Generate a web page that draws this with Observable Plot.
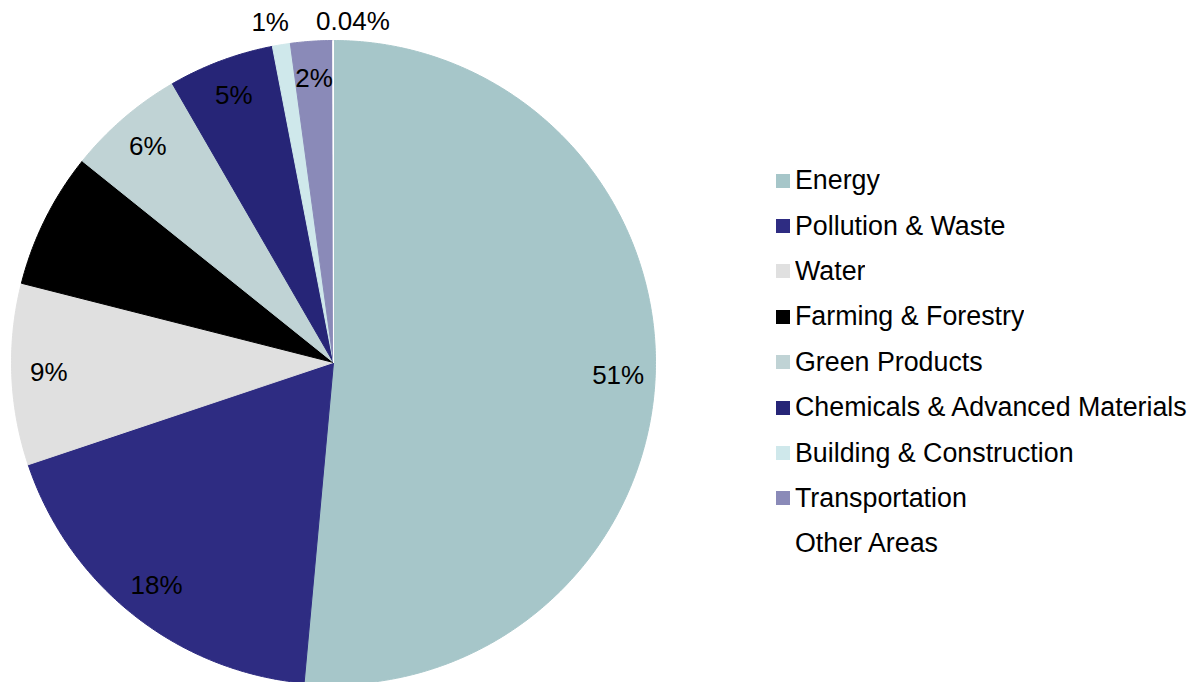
<!DOCTYPE html>
<html>
<head>
<meta charset="utf-8">
<script src="https://cdn.jsdelivr.net/npm/d3@7"></script>
<script src="https://cdn.jsdelivr.net/npm/@observablehq/plot@0.6"></script>
<style>
  body { margin: 0; background: #fff; font-family: "Liberation Sans", Arial, sans-serif; }
  #wrap { position: relative; width: 1192px; height: 682px; overflow: hidden; }
  #pie { position: absolute; left: 0; top: 0; }
  #legend { position: absolute; left: 776px; top: 158px; width: 416px; }
  .lg-swatches { font-family: "Liberation Sans", Arial, sans-serif; font-size: 26.8px; color: #000; margin: 0; width: 100%; }
  .lg-swatch { height: 45.4px; padding: 0; }
  .lg-swatch > svg { margin-right: 5px; }
</style>
</head>
<body>
<div id="wrap"><div id="pie"></div><div id="legend"></div></div>
<script>
// ---- data ----
const categories = ["Energy", "Pollution & Waste", "Water", "Farming & Forestry", "Green Products",
  "Chemicals & Advanced Materials", "Building & Construction", "Transportation", "Other Areas"];
const shares = [51.45, 18.4, 9.1, 6.8, 5.9, 5.3, 0.9, 2.1, 0.04];
const labels = ["51%", "18%", "9%", "", "6%", "5%", "1%", "2%", "0.04%"];
const colors = ["#a6c6c9", "#2e2c82", "#e0e0e0", "#000000", "#c0d3d5", "#262577", "#cfe8eb", "#8a8ab8", "#ffffff"];

// ---- layout ----
const W = 700, H = 682, CX = 333, CY = 362, R = 322;

const rows = categories.map((c, i) => ({category: c, share: shares[i], label: labels[i]}));
const arcs = d3.pie().sort(null).value(d => d.share)(rows);

// slice outlines in unit-circle coordinates (angles clockwise from 12 o'clock)
const slices = arcs.flatMap(a => {
  const c = a.data.category;
  const n = Math.max(2, Math.ceil((a.endAngle - a.startAngle) / (Math.PI / 360)));
  const pts = [{category: c, x: 0, y: 0}];
  for (let i = 0; i <= n; i++) {
    const t = a.startAngle + (a.endAngle - a.startAngle) * i / n;
    pts.push({category: c, x: Math.sin(t), y: Math.cos(t)});
  }
  pts.push({category: c, x: 0, y: 0});
  return pts;
});

const labelPts = arcs.filter(a => a.data.label).map(a => {
  const mid = (a.startAngle + a.endAngle) / 2;
  const outside = a.data.share < 1.5;
  const r = outside ? 1.06 : 0.885;
  return {x: r * Math.sin(mid), y: r * Math.cos(mid), text: a.data.label,
          kind: a.data.share < 0.5 ? "tiny" : outside ? "outside" : "inside"};
});

const chart = Plot.plot({
  width: W,
  height: H,
  margin: 0,
  style: {fontFamily: "Liberation Sans, Arial, sans-serif", background: "#fff"},
  x: {domain: [-CX / R, (W - CX) / R], axis: null},
  y: {domain: [-(H - CY) / R, CY / R], axis: null},
  color: {domain: categories, range: colors},
  marks: [
    Plot.line(slices, {x: "x", y: "y", z: "category", fill: "category", stroke: "category", strokeWidth: 1}),
    Plot.text(labelPts.filter(d => d.kind === "inside"), {x: "x", y: "y", text: "text", fontSize: 26, fill: "#000"}),
    Plot.text(labelPts.filter(d => d.kind === "outside"), {x: "x", y: "y", text: "text", fontSize: 26, fill: "#000", dx: -8, dy: -3}),
    Plot.text(labelPts.filter(d => d.kind === "tiny"), {x: "x", y: "y", text: "text", fontSize: 26, fill: "#000", textAnchor: "start", dx: -17})
  ]
});
document.getElementById("pie").appendChild(chart);

const legend = chart.legend("color", {columns: 1, swatchSize: 14, className: "lg"});
document.getElementById("legend").appendChild(legend);
</script>
</body>
</html>
